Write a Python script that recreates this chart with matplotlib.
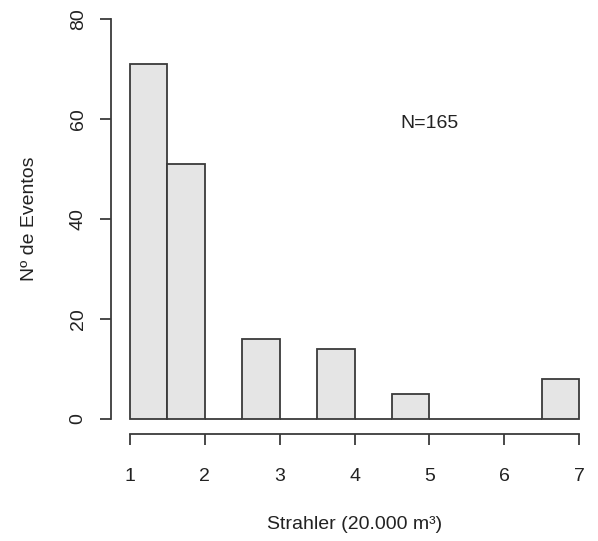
import matplotlib
matplotlib.use("Agg")
import matplotlib.pyplot as plt

# histogram of Strahler order, bins of 0.5
bin_left = [1.0, 1.5, 2.0, 2.5, 3.0, 3.5, 4.0, 4.5, 5.0, 5.5, 6.0, 6.5]
counts = [71, 51, 0, 16, 0, 14, 0, 5, 0, 0, 0, 8]
x_ticks = [1, 2, 3, 4, 5, 6, 7]
y_ticks = [0, 20, 40, 60, 80]

plt.rcParams['font.family'] = ['Liberation Sans', 'DejaVu Sans']
line_col = '#3a3a3a'
txt_col = '#222222'
fs = 14

fig = plt.figure(figsize=(5.98, 5.41), dpi=100)
W, H = 598, 541
# axes box in pixels: x 130..579, y (top) 19..419
ax = fig.add_axes([130 / W, (H - 419) / H, (579 - 130) / W, (419 - 19) / H])

ax.bar(bin_left, counts, width=0.5, align='edge', color='#e5e5e5',
       edgecolor=line_col, linewidth=1.3, clip_on=False)

ax.set_xlim(1, 7)
ax.set_ylim(0, 80)

for s in ['top', 'right']:
    ax.spines[s].set_visible(False)
ax.spines['left'].set_position(('outward', 19 * 72 / 100))
ax.spines['bottom'].set_position(('outward', 15 * 72 / 100))
ax.spines['left'].set_bounds(0, 80)
ax.spines['bottom'].set_bounds(1, 7)
for s in ['left', 'bottom']:
    ax.spines[s].set_color(line_col)
    ax.spines[s].set_linewidth(1.3)

ax.set_xticks(x_ticks)
ax.set_yticks(y_ticks)
ax.set_yticklabels([str(v) for v in y_ticks], rotation=90, va='center')
ax.tick_params(axis='both', length=8, width=1.3, color=line_col,
               labelsize=fs, labelcolor=txt_col)
ax.tick_params(axis='x', pad=16.5)
ax.tick_params(axis='y', pad=9.5)

ax.set_xlabel('Strahler (20.000 m³)', fontsize=fs, color=txt_col, labelpad=22)
ax.set_ylabel('Nº de Eventos', fontsize=fs, color=txt_col, labelpad=23)

ax.text(5, 59, 'N=165', fontsize=fs, color=txt_col, ha='center', va='center')

fig.savefig('out.png', dpi=100)
